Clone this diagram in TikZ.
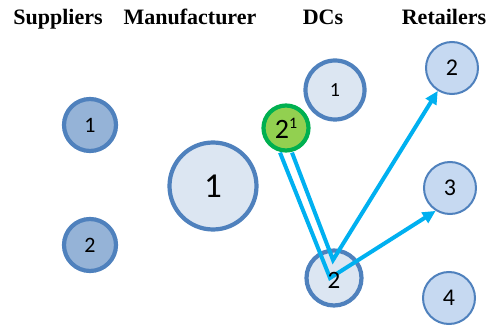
\documentclass[tikz,border=0pt]{standalone}
\usepackage{fontspec}
\setmainfont{Liberation Serif}
\newfontfamily\numfont{Carlito}
\usetikzlibrary{arrows.meta,calc}

\definecolor{ringblue}{HTML}{4F81BD}
\definecolor{supfill}{HTML}{95B3D7}
\definecolor{palefill}{HTML}{DCE6F2}
\definecolor{retfill}{HTML}{C6D9F1}
\definecolor{leafgreen}{HTML}{92D050}
\definecolor{ringgreen}{HTML}{00B050}
\definecolor{flowcyan}{HTML}{00B0F0}

\tikzset{
  header/.style={anchor=base, font=\fontsize{22}{24}\selectfont\bfseries},
  site/.style={circle, inner sep=0pt, draw=ringblue, line width=4.2pt, font=\numfont},
  supplier/.style={site, fill=supfill, minimum size=52pt, font=\numfont\fontsize{22}{24}\selectfont},
  plant/.style={site, fill=palefill, minimum size=87pt, font=\numfont\fontsize{35}{37}\selectfont},
  dc/.style={site, fill=palefill},
  retailer/.style={site, fill=retfill, line width=2pt, minimum size=52pt, font=\numfont\fontsize{24}{26}\selectfont},
  hub/.style={circle, inner sep=0pt, draw=ringgreen, fill=leafgreen, line width=4.2pt, minimum size=45pt, font=\numfont\fontsize{28}{30}\selectfont},
  flow/.style={draw=flowcyan, line width=4pt, line join=miter},
  flowarrow/.style={flow, -{Triangle[length=13pt,width=12pt]}}
}

\begin{document}
\begin{tikzpicture}[x=1pt,y=-1pt]
\useasboundingbox (0,0) rectangle (488,331);

% column headings
\node[header] (hS) at (58,25) {Suppliers};
\node[header] (hM) at (190,25) {Manufacturer};
\node[header] (hD) at (323,25) {DCs};
\node[header] (hR) at (444,25) {Retailers};

% suppliers
\node[supplier] (s1) at (90,125) {1};
\node[supplier] (s2) at (90,245) {2};

% manufacturer
\node[plant] (m1) at (213,186) {1};

% distribution centres
\node[dc, minimum size=59pt, font=\numfont\fontsize{20}{22}\selectfont] (d1) at (335,90) {1};
\node[dc, minimum size=55pt] (d2) at (334,278) {};
\node[hub] (g) at (286,128) {2\raisebox{0.75ex}{\fontsize{16}{17}\selectfont 1}};

% retailers
\node[retailer] (r2) at (452,68) {2};
\node[retailer] (r3) at (450,188) {3};
\node[retailer] (r4) at (449,298) {4};

% turning points of the two routes inside DC 2
\coordinate (va) at ($(d2)+(-1,-18)$);
\coordinate (vb) at ($(d2)+(-4,0)$);

% routes from the new DC through DC 2 to the retailers
\draw[flowarrow] ([xshift=6pt]g.south) -- (va) -- (r2);
\draw[flowarrow] ([xshift=-6pt]g.south) -- (vb) -- (r3.238);

% DC 2 label on top of the routes
\node[font=\numfont\fontsize{25}{27}\selectfont] (d2lbl) at ($(d2)+(0,2)$) {2};
\end{tikzpicture}
\end{document}
